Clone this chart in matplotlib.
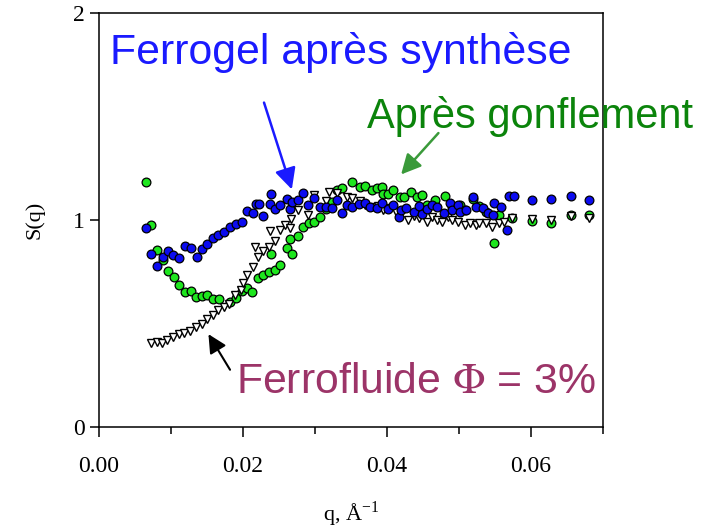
import numpy as np
import matplotlib.pyplot as plt
from matplotlib.ticker import MultipleLocator

# ferrogel right after synthesis (blue circles)
q_gel = [0.0065, 0.0072, 0.0080, 0.0089, 0.0096, 0.0103, 0.0111, 0.0119, 0.0128, 0.0136,
         0.0143, 0.0150, 0.0158, 0.0165, 0.0173, 0.0182, 0.0190, 0.0198, 0.0205, 0.0214,
         0.0218, 0.0222, 0.0228, 0.0237, 0.0239, 0.0244, 0.0252, 0.0261, 0.0265, 0.0268,
         0.0276, 0.0283, 0.0290, 0.0298, 0.0307, 0.0315, 0.0323, 0.0330, 0.0338, 0.0345,
         0.0352, 0.0361, 0.0369, 0.0376, 0.0386, 0.0393, 0.0401, 0.0409, 0.0416, 0.0420,
         0.0427, 0.0438, 0.0445, 0.0448, 0.0455, 0.0463, 0.0470, 0.0479, 0.0487, 0.0490,
         0.0498, 0.0501, 0.0510, 0.0519, 0.0524, 0.0533, 0.0540, 0.0547, 0.0549, 0.0558,
         0.0566, 0.0569, 0.0576, 0.0602, 0.0628, 0.0655, 0.0681]
s_gel = [0.961, 0.836, 0.778, 0.821, 0.850, 0.831, 0.816, 0.874, 0.865, 0.821,
         0.860, 0.884, 0.913, 0.928, 0.942, 0.966, 0.981, 0.990, 1.043, 1.034,
         1.077, 1.077, 1.019, 1.077, 1.126, 1.053, 1.072, 1.101, 1.053, 1.087,
         1.097, 1.130, 1.072, 1.106, 1.063, 1.063, 1.058, 1.097, 1.034, 1.072,
         1.063, 1.077, 1.082, 1.063, 1.058, 1.082, 1.053, 1.072, 1.014, 1.048,
         1.058, 1.039, 1.068, 1.029, 1.053, 1.072, 1.063, 1.034, 1.082, 1.048,
         1.072, 1.039, 1.048, 1.111, 1.063, 1.058, 1.034, 1.024, 1.082, 1.063,
         0.952, 1.116, 1.116, 1.097, 1.101, 1.116, 1.097]

# after swelling (green circles)
q_swell = [0.0065, 0.0072, 0.0080, 0.0089, 0.0096, 0.0104, 0.0111, 0.0119, 0.0128, 0.0135,
           0.0143, 0.0150, 0.0158, 0.0166, 0.0182, 0.0190, 0.0198, 0.0205, 0.0212, 0.0221,
           0.0228, 0.0236, 0.0244, 0.0252, 0.0239, 0.0261, 0.0268, 0.0265, 0.0276, 0.0283,
           0.0291, 0.0298, 0.0307, 0.0315, 0.0323, 0.0330, 0.0338, 0.0352, 0.0362, 0.0370,
           0.0379, 0.0386, 0.0393, 0.0395, 0.0401, 0.0409, 0.0418, 0.0424, 0.0433, 0.0441,
           0.0448, 0.0456, 0.0467, 0.0480, 0.0490, 0.0501, 0.0509, 0.0519, 0.0528, 0.0538,
           0.0549, 0.0556, 0.0573, 0.0602, 0.0628, 0.0655, 0.0681]
s_swell = [1.184, 0.976, 0.855, 0.807, 0.754, 0.725, 0.686, 0.652, 0.657, 0.628,
           0.633, 0.638, 0.618, 0.618, 0.604, 0.623, 0.657, 0.671, 0.652, 0.720,
           0.734, 0.749, 0.758, 0.783, 0.836, 0.865, 0.836, 0.908, 0.923, 0.966,
           0.986, 0.990, 1.014, 1.053, 1.087, 1.145, 1.155, 1.184, 1.159, 1.164,
           1.145, 1.155, 1.159, 1.126, 1.126, 1.145, 1.111, 1.111, 1.135, 1.111,
           1.121, 1.072, 1.097, 1.116, 1.063, 1.072, 1.048, 1.101, 1.068, 1.039,
           0.889, 1.024, 1.010, 0.995, 0.986, 1.024, 1.024]

# ferrofluid, Phi = 3% (open down triangles)
q_ff = [0.0072, 0.0080, 0.0087, 0.0094, 0.0103, 0.0111, 0.0118, 0.0126, 0.0135, 0.0143,
        0.0150, 0.0158, 0.0165, 0.0173, 0.0180, 0.0189, 0.0197, 0.0200, 0.0205, 0.0214,
        0.0216, 0.0221, 0.0228, 0.0236, 0.0237, 0.0244, 0.0252, 0.0259, 0.0265, 0.0266,
        0.0276, 0.0290, 0.0298, 0.0315, 0.0320, 0.0330, 0.0345, 0.0352, 0.0362, 0.0370,
        0.0379, 0.0387, 0.0395, 0.0404, 0.0412, 0.0420, 0.0429, 0.0437, 0.0445, 0.0455,
        0.0463, 0.0469, 0.0477, 0.0485, 0.0490, 0.0498, 0.0508, 0.0515, 0.0523, 0.0528,
        0.0538, 0.0546, 0.0555, 0.0563, 0.0573, 0.0602, 0.0628, 0.0655, 0.0681]
s_ff = [0.406, 0.411, 0.406, 0.420, 0.435, 0.449, 0.454, 0.464, 0.483, 0.498,
        0.522, 0.541, 0.565, 0.580, 0.594, 0.638, 0.662, 0.696, 0.734, 0.773,
        0.870, 0.821, 0.850, 0.870, 0.947, 0.899, 0.952, 0.976, 0.961, 1.005,
        1.048, 1.024, 1.121, 1.092, 1.135, 1.130, 1.111, 1.106, 1.092, 1.072,
        1.063, 1.068, 1.048, 1.058, 1.039, 1.034, 1.000, 1.019, 1.010, 0.990,
        1.014, 1.000, 0.990, 1.014, 1.000, 0.990, 0.976, 0.986, 0.976, 0.986,
        0.986, 0.966, 0.986, 0.990, 1.010, 1.005, 1.000, 1.019, 1.010]

xticks = [0.00, 0.02, 0.04, 0.06]
yticks = [0, 1, 2]

plt.rcParams['mathtext.fontset'] = 'stix'

fig = plt.figure(figsize=(7.1, 5.32), dpi=100)
ax = fig.add_axes([99/710, 1-427/532, 504/710, 414/532])

ax.plot(q_swell, s_swell, 'o', ms=6.3, mfc='#1ee61e', mec='black', mew=0.9, zorder=3)
ax.plot(q_ff, s_ff, 'v', ms=5.6, mfc='white', mec='black', mew=1.0, zorder=4)
ax.plot(q_gel, s_gel, 'o', ms=6.3, mfc='#0c0cf0', mec='black', mew=0.9, zorder=5)

ax.set_xlim(0, 0.07)
ax.set_ylim(0, 2)
ax.set_xticks(xticks)
ax.set_xticklabels(['%.2f' % t for t in xticks])
ax.xaxis.set_minor_locator(MultipleLocator(0.01))
ax.set_yticks(yticks)

serif = 'Liberation Serif'
for lab in ax.get_xticklabels() + ax.get_yticklabels():
    lab.set_fontfamily(serif)
    lab.set_fontsize(17)
ax.tick_params(axis='x', which='major', direction='out', length=7, width=1.1, pad=14, top=False)
ax.tick_params(axis='x', which='minor', direction='out', length=5, width=1.1, top=False)
ax.tick_params(axis='y', which='major', direction='out', length=6.5, width=1.1, pad=4, right=False)
for sp in ax.spines.values():
    sp.set_linewidth(1.1)

ax.set_ylabel('S(q)', fontfamily=serif, fontsize=16, labelpad=20)
ax.set_xlabel(r'q, Å$^{\mathregular{-1}}$', fontfamily=serif, fontsize=16, labelpad=16)

sans = 'Liberation Sans'
ax.text(110/710, 1-64/532, 'Ferrogel après synthèse', transform=fig.transFigure,
        fontfamily=sans, fontsize=30.8, color='#1a1aff', ha='left', va='baseline')
ax.text(367/710, 1-128/532, 'Après gonflement', transform=fig.transFigure,
        fontfamily=sans, fontsize=30, color='#0b840b', ha='left', va='baseline')
ax.text(236/710, 1-393/532, r'Ferrofluide $\Phi$ = 3%', transform=fig.transFigure,
        fontfamily=sans, fontsize=30.8, color='#9c3468', ha='left', va='baseline')

# arrows pointing at the curves
ax.annotate('', xy=(0.0269, 1.135), xytext=(0.0228, 1.58),
            arrowprops=dict(arrowstyle='-|>', color='#1a1aff', lw=1.8, mutation_scale=32))
ax.annotate('', xy=(0.0417, 1.21), xytext=(0.0474, 1.43),
            arrowprops=dict(arrowstyle='-|>', color='#3a9a3a', lw=1.8, mutation_scale=30))
ax.annotate('', xy=(0.0150, 0.46), xytext=(0.0184, 0.265),
            arrowprops=dict(arrowstyle='-|>', color='black', lw=1.5, mutation_scale=28))

fig.savefig('out.png', dpi=100)
